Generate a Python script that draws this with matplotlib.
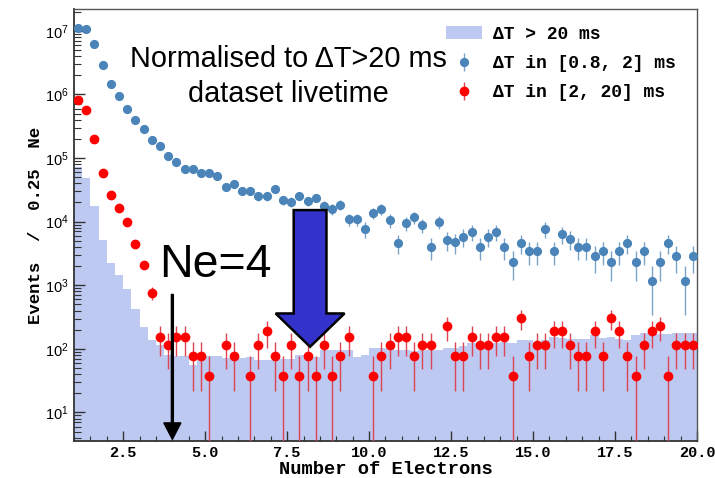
import numpy as np
import matplotlib
matplotlib.use("Agg")
import matplotlib.pyplot as plt
import matplotlib.transforms as mtransforms
from matplotlib.patches import Patch, FancyArrow
from matplotlib.ticker import MultipleLocator, FixedLocator, NullFormatter, LogFormatterSciNotation

plt.rcParams['font.family'] = ['Liberation Sans', 'DejaVu Sans']

# 0.25 Ne bins from 1 to 20 electrons
edges = np.arange(1.0, 20.0 + 0.125, 0.25)
centres = 0.5 * (edges[1:] + edges[:-1])

# dT > 20 ms sample (filled histogram)
hist_gt20 = [7.2e4, 4.8e4, 1.77e4, 5.1e3, 2.21e3, 1.44e3, 859, 430, 221, 139,
             114, 81, 76, 76, 55, 74, 76, 76, 73, 73,
             73, 74, 66, 66, 66, 69, 69, 81, 81, 74,
             97, 97, 97, 95, 74, 81, 104, 104, 104, 95,
             95, 92, 97, 95, 97, 104, 104, 110, 124, 128,
             124, 124, 128, 122, 136, 136, 128, 140, 153, 150,
             143, 145, 143, 163, 150, 155, 145, 140, 163, 180,
             174, 170, 174, 176, 178, 178]

# dT in [0.8, 2] ms
blue_pts = [1.12e7, 1.06e7, 6.1e6, 2.86e6, 1.47e6, 9.5e5, 5.9e5, 4.0e5, 2.87e5, 1.94e5,
            1.56e5, 1.09e5, 8.7e4, 6.6e4, 6.6e4, 5.8e4, 5.8e4, 5.2e4, 3.56e4, 3.93e4,
            3.08e4, 3.02e4, 2.52e4, 2.52e4, 3.28e4, 2.20e4, 2.07e4, 2.57e4, 2.12e4, 2.39e4,
            1.77e4, 1.57e4, 1.83e4, 1.09e4, 1.09e4, 7.6e3, 1.36e4, 1.57e4, 1.05e4, 4.67e3,
            9.4e3, 1.17e4, 8.8e3, 4.03e3, 1.0e4, 5.2e3, 4.73e3, 5.8e3, 6.95e3, 4.03e3,
            5.8e3, 6.95e3, 4.03e3, 2.34e3, 4.67e3, 3.45e3, 3.45e3, 7.6e3, 3.45e3, 6.4e3,
            5.3e3, 4.03e3, 4.03e3, 2.88e3, 3.45e3, 2.31e3, 3.45e3, 4.67e3, 2.31e3, 3.45e3,
            1.16e3, 2.31e3, 4.67e3, 2.88e3, 1.16e3, 2.88e3]
blue_err = [80000, 78000, 59000, 41000, 29000, 23000, 18000, 15000, 13000, 10500,
            9500, 7900, 7100, 6200, 6200, 5800, 5800, 5500, 4500, 4800,
            4200, 4200, 3800, 3800, 4300, 3600, 3500, 3800, 3500, 3700,
            3200, 3000, 3200, 2500, 2500, 2100, 2800, 3000, 2500, 1600,
            2300, 2600, 2200, 1500, 2400, 1700, 1600, 1800, 2000, 1500,
            1800, 2000, 1500, 1150, 1600, 1400, 1400, 2100, 1400, 1900,
            1750, 1500, 1500, 1300, 1400, 1150, 1400, 1600, 1150, 1400,
            820, 1150, 1600, 1300, 820, 1300]

# dT in [2, 20] ms (empty bins left as nan)
nan = np.nan
red_pts = [8.2e5, 5.6e5, 2.0e5, 5.9e4, 2.64e4, 1.63e4, 1.0e4, 4.4e3, 2.08e3, 760,
           152, 114, 152, 152, 76, 76, 38, nan, 114, 76,
           nan, 38, 114, 190, 76, 38, 114, 38, 76, 38,
           114, 38, 76, 152, nan, nan, 38, 76, 114, 152,
           152, 76, 114, 114, nan, 228, 76, 76, 152, 114,
           114, 152, 152, 38, 304, 76, 114, 114, 190, 190,
           114, 76, 76, 190, 76, 304, 190, 76, 38, 114,
           190, 228, 38, 114, 114, 114]
red_err = [5580, 4600, 2760, 1500, 1000, 790, 620, 410, 280, 170,
           76, 66, 76, 76, 54, 54, 38, nan, 66, 54,
           nan, 38, 66, 85, 54, 38, 66, 38, 54, 38,
           66, 38, 54, 76, nan, nan, 38, 54, 66, 76,
           76, 54, 66, 66, nan, 93, 54, 54, 76, 66,
           66, 76, 76, 38, 107, 54, 66, 66, 85, 85,
           66, 54, 54, 85, 54, 107, 85, 54, 38, 66,
           85, 93, 38, 66, 66, 66]

labels = ['ΔT > 20 ms', 'ΔT in [0.8, 2] ms', 'ΔT in [2, 20] ms']
decades = [1e1, 1e2, 1e3, 1e4, 1e5, 1e6, 1e7]

hist_col = '#bdc9f1'
mono = 'Liberation Mono'

fig = plt.figure(figsize=(7.15, 4.78), dpi=100)
ax = fig.add_axes([0.1035, 0.0764, 0.8713, 0.9048])

ax.stairs(hist_gt20, edges, fill=True, color=hist_col, baseline=0.1, lw=0, zorder=1)
eb_red = ax.errorbar(centres, red_pts, yerr=red_err, fmt='o', ms=6, color='#ff0000',
                     ecolor='#dd4455', elinewidth=1.0, capsize=0, zorder=3)
eb_blue = ax.errorbar(centres, blue_pts, yerr=blue_err, fmt='o', ms=5.6, color='#4a84b9',
                      ecolor='#7aa3c9', elinewidth=1.0, capsize=0, zorder=3)

ax.set_yscale('log')
ax.set_xlim(1.0, 20.0)
ax.set_ylim(3.5, 2.2e7)

ax.xaxis.set_major_locator(MultipleLocator(2.5))
ax.xaxis.set_minor_locator(MultipleLocator(0.5))
ax.yaxis.set_major_locator(FixedLocator(decades))
ax.yaxis.set_major_formatter(LogFormatterSciNotation())
minor_y = [m * d for d in [1, 10, 1e2, 1e3, 1e4, 1e5, 1e6, 1e7] for m in range(2, 10)]
ax.yaxis.set_minor_locator(FixedLocator([v for v in minor_y if 3.5 < v < 2.2e7]))
ax.yaxis.set_minor_formatter(NullFormatter())
ax.xaxis.set_minor_formatter(NullFormatter())
ax.xaxis.set_major_formatter(matplotlib.ticker.FormatStrFormatter('%.1f'))
ax.tick_params(which='both', direction='in', top=False, right=False, color='#333333')
ax.tick_params(axis='x', which='major', length=7, width=1.0, pad=3)
ax.tick_params(axis='x', which='minor', length=3.5, width=0.8)
ax.tick_params(axis='y', which='major', length=8, width=1.0, pad=4, labelsize=10.5)
ax.tick_params(axis='y', which='minor', length=5, width=0.8)
for lab in ax.get_xticklabels():
    lab.set_fontfamily(mono)
    lab.set_fontweight('bold')
    lab.set_fontsize(11)

for side in ['left', 'bottom']:
    ax.spines[side].set_color('#333333')
    ax.spines[side].set_linewidth(1.3)
for side in ['top', 'right']:
    ax.spines[side].set_color('#555555')
    ax.spines[side].set_linewidth(1.0)

ax.set_xlabel('Number of Electrons', fontfamily=mono, fontweight='bold', fontsize=13.5, labelpad=1)
ax.set_ylabel('Events  /  0.25  Ne', fontfamily=mono, fontweight='bold', fontsize=12.5, labelpad=1)

leg = ax.legend([Patch(facecolor=hist_col, edgecolor='none'), eb_blue, eb_red], labels,
                loc='upper right', bbox_to_anchor=(0.978, 0.978), frameon=False,
                prop={'family': mono, 'weight': 'bold', 'size': 13},
                handlelength=2.0, handletextpad=0.6, labelspacing=0.68, borderaxespad=0)

ax.text(0.3435, 0.866, 'Normalised to ΔT>20 ms', transform=ax.transAxes,
        ha='center', va='baseline', fontsize=20.8, color='black')
ax.text(0.3435, 0.7857, 'dataset livetime', transform=ax.transAxes,
        ha='center', va='baseline', fontsize=20.8, color='black')
ax.text(0.137, 0.381, 'Ne=4', transform=ax.transAxes,
        ha='left', va='baseline', fontsize=33.5, color='black')

# arrows: x in data units, y in axes fraction
trans = mtransforms.blended_transform_factory(ax.transData, ax.transAxes)
ax.add_patch(FancyArrow(4.0, 0.340, 0, -0.335, width=0.06, head_width=0.52,
                        head_length=0.038, length_includes_head=True,
                        color='black', transform=trans, zorder=5))
ax.add_patch(FancyArrow(8.2, 0.535, 0, -0.316, width=1.0, head_width=2.1,
                        head_length=0.077, length_includes_head=True,
                        facecolor='#3333cc', edgecolor='black', lw=1.8,
                        transform=trans, zorder=5))

fig.savefig('out.png', dpi=100)
